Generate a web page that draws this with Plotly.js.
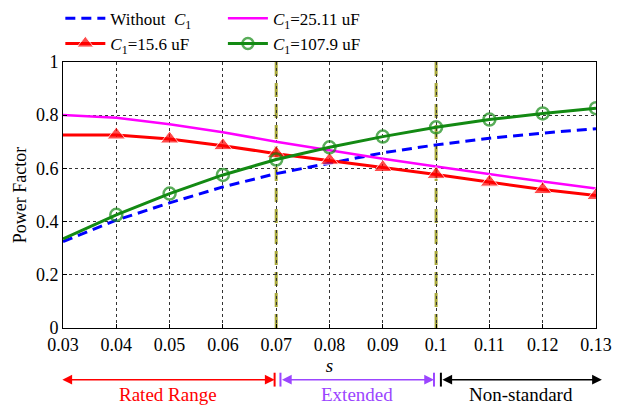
<!DOCTYPE html>
<html><head><meta charset="utf-8">
<script src="https://cdn.plot.ly/plotly-3.0.1.min.js"></script>
<style>html,body{margin:0;padding:0;background:#fff}</style>
</head><body>
<div id="chart" style="width:630px;height:406px"></div>
<script>
// ---- data ----
const slip = [0.03,0.04,0.05,0.06,0.07,0.08,0.09,0.10,0.11,0.12,0.13];
const pfWithout = [0.325,0.405,0.47,0.53,0.58,0.62,0.658,0.688,0.713,0.732,0.749];
const pf2511 = [0.80,0.79,0.765,0.735,0.70,0.668,0.636,0.607,0.578,0.55,0.524];
const pf156  = [0.725,0.725,0.71,0.685,0.655,0.63,0.603,0.577,0.548,0.52,0.498];
const pf1079 = [0.335,0.425,0.505,0.575,0.633,0.679,0.719,0.754,0.783,0.806,0.826];
const xTickVals = [0.03,0.04,0.05,0.06,0.07,0.08,0.09,0.1,0.11,0.12,0.13];
const xTickText = ["0.03","0.04","0.05","0.06","0.07","0.08","0.09","0.1","0.11","0.12","0.13"];
const yTickVals = [0,0.2,0.4,0.6,0.8,1];
const yTickText = ["0","0.2","0.4","0.6","0.8","1"];
const boundaries = [0.07, 0.10];
const ranges = [
  {name:"Rated Range", from:0.0296, to:0.0697, color:"#ff0000"},
  {name:"Extended", from:0.0708, to:0.0996, color:"#9b45ff"},
  {name:"Non-standard", from:0.1009, to:0.1311, color:"#000000"}
];

const FONT = "Liberation Serif, Times New Roman, serif";
const C1 = "<i>C</i><sub>1</sub>";

const markerSizes = (n, s) => slip.map((_, i) => i === 0 ? 0 : s);

const traces = [
  {x: slip, y: pfWithout, mode:"lines", name:"Without  " + C1, legend:"legend",
   line:{color:"#0000ff", width:3, dash:"10px,6px"}},
  {x: slip, y: pf2511, mode:"lines", name: C1 + "=25.11 uF", legend:"legend2",
   line:{color:"#ff00ff", width:2.5}},
  {x: slip, y: pf156, mode:"lines+markers", name: C1 + "=15.6 uF", legend:"legend",
   line:{color:"#ff0000", width:3},
   marker:{symbol:"triangle-up", size:markerSizes(slip.length, 16), color:"#ff0000"}},
  {x: slip, y: pf1079, mode:"lines+markers", name: C1 + "=107.9 uF", legend:"legend2",
   line:{color:"#138a13", width:3},
   marker:{symbol:"circle-open", size:markerSizes(slip.length, 12), color:"#138a13", line:{width:2.5, color:"#138a13"}}}
];

const shapes = boundaries.map(b => ({
  type:"line", xref:"x", yref:"paper", x0:b, x1:b, y0:0, y1:1, layer:"between",
  line:{color:"#a8a83a", width:3, dash:"14px,7px"}
}));

const annotations = [];
const arrowY = -0.194;
ranges.forEach(r => {
  annotations.push({x:r.to, y:arrowY, xref:"x", yref:"paper", ax:r.from, ay:0, axref:"x", ayref:"pixel",
    showarrow:true, arrowhead:2, startarrowhead:2, arrowside:"end+start", arrowsize:1.3, startarrowsize:1.3,
    arrowwidth:1.5, arrowcolor:r.color, text:""});
  [r.from, r.to].forEach(e => shapes.push({type:"line", xref:"x", yref:"paper", x0:e, x1:e,
    y0:arrowY-0.026, y1:arrowY+0.026, line:{color:r.color, width:2}}));
  annotations.push({x:(r.from+r.to)/2, y:-0.248, xref:"x", yref:"paper", showarrow:false,
    text:r.name, font:{family:FONT, size:19, color:r.color}, yanchor:"middle"});
});

const axisCommon = {showline:true, mirror:true, linecolor:"#000", linewidth:1,
  showgrid:true, gridcolor:"#333", griddash:"dot", gridwidth:1,
  ticks:"inside", ticklen:4, tickcolor:"#000", zeroline:false,
  tickfont:{family:FONT, size:18, color:"#000"}};

const layout = {
  width:630, height:406,
  margin:{l:63, r:34, t:60, b:78},
  paper_bgcolor:"#fff", plot_bgcolor:"#fff",
  font:{family:FONT, size:17, color:"#000"},
  xaxis: Object.assign({}, axisCommon, {range:[0.03,0.13], tickvals:xTickVals, ticktext:xTickText,
    title:{text:"<i>s</i>", font:{family:FONT, size:19}, standoff:2}}),
  yaxis: Object.assign({}, axisCommon, {range:[0,1], tickvals:yTickVals, ticktext:yTickText,
    title:{text:"Power Factor", font:{family:FONT, size:18}, standoff:4}}),
  showlegend:true,
  legend:{x:-0.005, y:0.998, xref:"paper", yref:"container", xanchor:"left", yanchor:"top", orientation:"v",
    itemwidth:40, bgcolor:"rgba(0,0,0,0)", font:{family:FONT, size:17}, tracegroupgap:0},
  legend2:{x:0.3, y:0.998, xref:"paper", yref:"container", xanchor:"left", yanchor:"top", orientation:"v",
    itemwidth:40, bgcolor:"rgba(0,0,0,0)", font:{family:FONT, size:17}, tracegroupgap:0},
  shapes: shapes,
  annotations: annotations
};

Plotly.newPlot("chart", traces, layout, {displayModeBar:false, staticPlot:true});
</script>
</body></html>
